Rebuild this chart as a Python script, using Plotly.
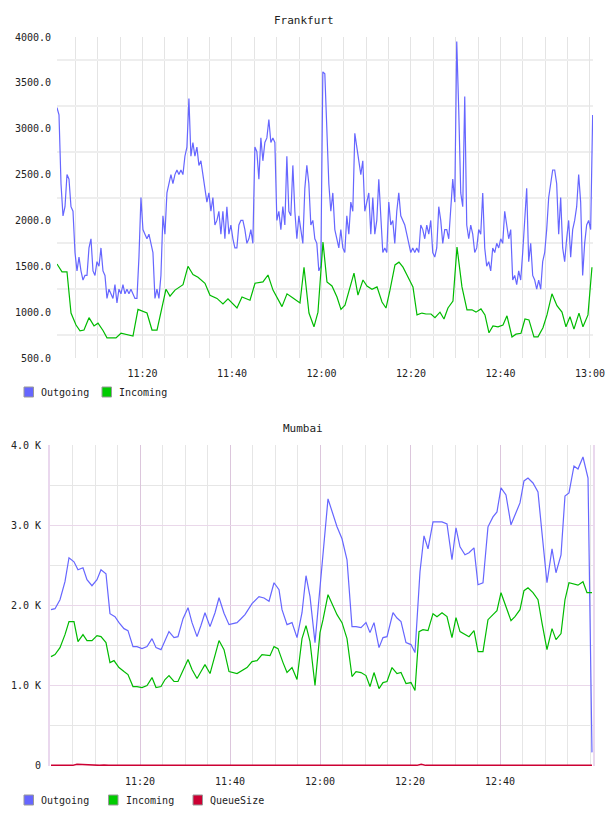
import pandas as pd
import plotly.graph_objects as go

BASE = pd.Timestamp("2024-01-01 11:00:00")

# ---------------- Frankfurt ----------------
fra_out_start = "2024-01-01 11:00:54"
fra_out_step = "26800ms"
fra_out = [
    3230, 3150, 2400, 2050, 2150, 2500, 2450, 2150, 2100, 1650,
    1450, 1600, 1450, 1350, 1400, 1400, 1700, 1800, 1450, 1400,
    1550, 1500, 1700, 1450, 1400, 1150, 1250, 1200, 1150, 1300,
    1100, 1250, 1200, 1300, 1200, 1250, 1200, 1250, 1200, 1150,
    1150, 1600, 2250, 1900, 1850, 1800, 1850, 1750, 1650, 1150,
    1250, 1150, 1400, 2050, 1850, 2300, 2400, 2500, 2400, 2500,
    2550, 2500, 2550, 2500, 2700, 2800, 3330, 2700, 2850, 2700,
    2800, 2600, 2650, 2500, 2400, 2200, 2300, 2100, 2250, 1950,
    2000, 2100, 1850, 2100, 1800, 2150, 1850, 1950, 1800, 1700,
    1700, 1950, 2000, 2000, 1900, 1750, 1800, 1900, 1750, 2800,
    2750, 2450, 2900, 2650, 2850, 2900, 3100, 2850, 2900, 2850,
    2000, 2100, 1900, 2150, 1950, 2700, 2100, 2050, 2600, 2100,
    1800, 2050, 1900, 1750, 2350, 2600, 2400, 1950, 2000, 1800,
    1750, 1450, 1500, 3620, 3600, 3000, 2400, 2100, 2300, 1900,
    1800, 1700, 1900, 1700, 1650, 2050, 1850, 2200, 2100, 2950,
    2800, 2650, 2500, 2650, 2100, 2200, 2300, 1850, 2250, 1850,
    2000, 2450, 2000, 1650, 1700, 1650, 2200, 1950, 2000, 1750,
    2100, 2300, 2050, 2000, 1950, 1850, 1750, 1650, 1700, 1650,
    1700, 1650, 1950, 1900, 1800, 1950, 1850, 2000, 1650, 1600,
    1700, 2150, 2000, 1750, 1900, 1900, 1800, 2150, 2450, 2200,
    3950, 3200, 2300, 2150, 3350, 1950, 1800, 1950, 1850, 1650,
    1700, 1900, 1850, 2300, 1700, 1500, 1550, 1450, 1700, 1650,
    1750, 1700, 1800, 1750, 2100, 1950, 1800, 1900, 1350, 1400,
    1300, 1450, 1350, 1650, 1950, 2350, 1550, 1750, 1400, 1350,
    1250, 1350, 1250, 1550, 1650, 1900, 2250, 2400, 2550, 2550,
    2400, 1850, 2250, 1700, 1550, 1800, 2000, 1600, 1900, 2000,
    2150, 2500, 2200, 1400, 1750, 1950, 2000, 1900, 3150,
]

fra_in_min = [
    0.90, 2.02, 3.13, 4.03, 5.15, 6.04, 6.93, 8.05, 9.17, 10.06,
    11.18, 12.07, 14.08, 15.20, 17.88, 19.00, 21.01, 22.13, 23.25, 25.26,
    26.15, 27.27, 29.06, 30.17, 31.29, 32.41, 33.97, 35.09, 36.65, 37.99,
    39.11, 41.12, 42.24, 44.03, 45.15, 46.93, 48.05, 49.17, 51.18, 52.30,
    53.64, 55.20, 56.10, 57.21, 58.33, 59.22, 60.34, 61.23, 62.35, 63.47,
    64.36, 65.26, 67.27, 68.16, 69.28, 70.17, 71.29, 72.41, 73.53, 74.42,
    75.31, 76.43, 77.32, 78.22, 79.11, 80.45, 81.35, 82.46, 83.36, 84.48,
    85.37, 86.49, 87.38, 88.27, 89.39, 90.29, 91.40, 92.52, 93.64, 94.53,
    95.65, 96.54, 97.44, 98.33, 99.45, 100.57, 101.46, 102.58, 103.47, 104.59,
    105.48, 106.37, 107.49, 108.39, 109.50, 110.40, 111.51, 112.63, 113.75, 114.64,
    115.54, 116.43, 117.55, 118.44, 119.56, 120.45,
]
fra_in = [
    1525, 1440, 1440, 990, 860, 795, 805, 940, 850, 880,
    800, 720, 720, 770, 740, 1030, 990, 805, 805, 1250,
    1175, 1240, 1300, 1500, 1410, 1380, 1315, 1185, 1150, 1090,
    1145, 1045, 1165, 1130, 1315, 1330, 1405, 1240, 1060, 1200,
    1155, 1100, 1490, 990, 840, 1000, 1765, 1330, 1285, 1165,
    1030, 1075, 1425, 1185, 1350, 1285, 1250, 1275, 1110, 1045,
    1240, 1515, 1545, 1490, 1405, 1275, 970, 990, 980, 980,
    940, 1000, 925, 1045, 1120, 1710, 1275, 1025, 1025, 1000,
    1035, 970, 775, 850, 840, 860, 960, 730, 760, 770,
    925, 915, 730, 730, 830, 970, 1200, 1070, 1000, 840,
    950, 815, 990, 840, 970, 1490,
]
fra_yticks = [500, 1000, 1500, 2000, 2500, 3000, 3500, 4000]
fra_ytext = ["500.0", "1000.0", "1500.0", "2000.0", "2500.0", "3000.0", "3500.0", "4000.0"]
fra_ygrid = [750, 1250, 1750, 2250, 2750, 3250, 3750]

# ---------------- Mumbai ----------------
mum_out_min = [
    0.22, 1.11, 2.22, 3.33, 4.22, 5.33, 6.22, 7.33, 8.22, 9.33,
    10.44, 11.33, 12.44, 13.33, 14.44, 15.33, 16.44, 17.33, 18.44, 19.33,
    20.44, 21.56, 22.67, 23.56, 24.67, 25.56, 26.44, 27.56, 28.44, 29.56,
    30.67, 31.56, 32.67, 33.56, 34.44, 35.56, 36.67, 37.56, 38.67, 39.78,
    40.67, 41.56, 42.44, 43.33, 44.89, 46.44, 47.56, 48.67, 49.78, 50.89,
    51.56, 52.67, 53.78, 54.89, 56.00, 56.89, 57.78, 58.89, 61.78, 62.89,
    63.78, 64.89, 66.00, 67.11, 68.00, 69.11, 70.22, 71.11, 72.00, 73.11,
    74.00, 74.89, 76.22, 77.11, 78.00, 79.11, 80.22, 81.11, 82.22, 83.11,
    84.00, 85.11, 86.00, 87.11, 88.22, 89.33, 90.22, 91.11, 92.22, 93.11,
    94.22, 95.11, 96.22, 97.33, 98.44, 99.33, 100.22, 101.33, 102.44, 103.33,
    104.44, 105.33, 106.22, 107.33, 108.44, 109.33, 110.44, 111.56, 112.44, 113.56,
    114.44, 115.33, 116.44, 117.33, 118.44, 119.56, 120.44,
]
mum_out = [
    1944, 1956, 2068, 2293, 2592, 2542, 2442, 2467, 2318, 2243,
    2318, 2442, 2392, 1894, 1857, 1782, 1707, 1682, 1483, 1483,
    1458, 1483, 1582, 1470, 1445, 1570, 1670, 1595, 1607, 1832,
    1969, 1782, 1607, 1750, 1906, 1732, 1906, 2093, 1900, 1757,
    1770, 1782, 1830, 1882, 2019, 2106, 2090, 2050, 2280, 2193,
    1944, 1757, 1782, 1595, 1906, 2368, 2106, 1533, 3327, 3127,
    2980, 2829, 2567, 1732, 1732, 1720, 1782, 1657, 1782, 1470,
    1595, 1607, 1906, 1840, 1794, 1533, 1508, 1408, 2417, 2866,
    2704, 3040, 3040, 3040, 3015, 2567, 2966, 2729, 2629, 2654,
    2716, 2255, 2280, 2978, 3102, 3165, 3464, 3377, 3003, 3127,
    3277, 3551, 3588, 3526, 3414, 2903, 2280, 2704, 2405, 2629,
    3364, 3402, 3738, 3700, 3850, 3588, 162,
]
mum_in_min = [
    0.22, 1.11, 2.22, 3.33, 4.22, 5.33, 6.22, 7.33, 8.22, 9.33,
    10.44, 11.33, 12.44, 13.33, 14.22, 15.33, 16.44, 17.33, 18.44, 19.33,
    20.44, 21.56, 22.67, 23.56, 24.67, 25.56, 26.44, 27.56, 28.44, 29.56,
    30.67, 31.56, 32.67, 33.56, 34.44, 35.56, 36.67, 37.56, 38.67, 39.78,
    41.56, 43.78, 44.89, 46.00, 47.11, 48.89, 49.78, 50.67, 51.78, 52.67,
    53.78, 54.89, 56.00, 56.89, 57.78, 58.89, 60.00, 60.67, 61.78, 62.89,
    63.78, 64.89, 66.00, 67.11, 68.00, 69.11, 70.22, 71.11, 72.00, 73.11,
    74.00, 74.89, 76.00, 77.11, 78.00, 79.11, 80.22, 81.11, 82.00, 82.89,
    84.00, 85.11, 86.00, 87.11, 88.22, 89.33, 90.22, 91.11, 92.22, 93.11,
    94.22, 95.11, 96.22, 97.33, 98.44, 99.33, 100.22, 101.33, 102.44, 103.33,
    104.44, 105.33, 106.22, 107.33, 108.44, 109.33, 110.44, 111.56, 112.44, 113.56,
    114.44, 115.33, 116.44, 117.33, 118.44, 119.33, 120.44,
]
mum_in = [
    1358, 1383, 1470, 1632, 1794, 1794, 1545, 1632, 1558, 1558,
    1620, 1607, 1533, 1283, 1308, 1221, 1171, 1134, 984, 984,
    972, 997, 1096, 972, 984, 1072, 1121, 1047, 1047, 1196,
    1321, 1196, 1084, 1171, 1258, 1146, 1358, 1558, 1445, 1171,
    1146, 1221, 1296, 1308, 1383, 1370, 1483, 1458, 1283, 1159,
    1221, 1072, 1582, 1744, 1545, 997, 1657, 1819, 2131, 1981,
    1882, 1782, 1582, 1109, 1171, 1159, 1121, 984, 1159, 959,
    1034, 1047, 1221, 1146, 1159, 1022, 1034, 934, 1670, 1695,
    1682, 1894, 1857, 1906, 1857, 1595, 1844, 1670, 1632, 1607,
    1682, 1420, 1420, 1819, 1882, 1931, 2156, 1980, 1807, 1857,
    1944, 2181, 2218, 2156, 2068, 1780, 1445, 1707, 1570, 1645,
    2068, 2280, 2268, 2250, 2293, 2156, 2156,
]
mum_q_min = [0.22, 5.0, 6.0, 7.0, 8.0, 11.0, 12.0, 13.0, 40.0, 81.5, 82.5, 83.5, 120.44]
mum_q = [0, 0, 15, 12, 0, 0, 6, 0, 0, 0, 15, 0, 0]
mum_yticks = [0, 1000, 2000, 3000, 4000]
mum_ytext = ["0", "1.0 K", "2.0 K", "3.0 K", "4.0 K"]
mum_ygrid = [500, 1500, 2500, 3500]

xlabels = ["11:20", "11:40", "12:00", "12:20", "12:40", "13:00"]
mum_xlabels = ["11:20", "11:40", "12:00", "12:20", "12:40"]

fra_series = ["Outgoing", "Incoming"]
mum_series = ["Outgoing", "Incoming", "QueueSize"]

# ---------------- styling ----------------
BLUE = "#6666ff"
GREEN = "#00bb00"
RED = "#cc0033"
SWATCH = {"Outgoing": BLUE, "Incoming": "#00cc00", "QueueSize": RED}
FONT = "DejaVu Sans Mono"
TXT = "#222222"
W, H = 608, 816


def tmin(m):
    return [BASE + pd.Timedelta(minutes=v) for v in m]


def hm(s):
    return pd.Timestamp("2024-01-01 " + s)


fra_out_t = pd.date_range(fra_out_start, periods=len(fra_out), freq=fra_out_step)
grid5 = pd.date_range("2024-01-01 11:05", "2024-01-01 13:00", freq="5min")

fig = go.Figure()
fig.add_trace(go.Scatter(x=fra_out_t, y=fra_out, mode="lines", line=dict(color=BLUE, width=1.2),
                         xaxis="x", yaxis="y", name="Outgoing", showlegend=False))
fig.add_trace(go.Scatter(x=tmin(fra_in_min), y=fra_in, mode="lines", line=dict(color=GREEN, width=1.2),
                         xaxis="x", yaxis="y", name="Incoming", showlegend=False))
fig.add_trace(go.Scatter(x=tmin(mum_q_min), y=mum_q, mode="lines", line=dict(color=RED, width=1.5),
                         xaxis="x2", yaxis="y2", name="QueueSize", showlegend=False))
fig.add_trace(go.Scatter(x=tmin(mum_out_min), y=mum_out, mode="lines", line=dict(color=BLUE, width=1.2),
                         xaxis="x2", yaxis="y2", name="Outgoing", showlegend=False))
fig.add_trace(go.Scatter(x=tmin(mum_in_min), y=mum_in, mode="lines", line=dict(color=GREEN, width=1.2),
                         xaxis="x2", yaxis="y2", name="Incoming", showlegend=False))

# legends drawn as swatches + labels
shapes, annotations = [], []


def legend_row(names, box_lefts, y_center):
    for name, bx in zip(names, box_lefts):
        shapes.append(dict(type="rect", xref="paper", yref="paper",
                           x0=bx / W, x1=(bx + 9.5) / W,
                           y0=1 - (y_center + 5) / H, y1=1 - (y_center - 5) / H,
                           fillcolor=SWATCH[name], line=dict(color="#999999", width=1)))
        annotations.append(dict(text=name, x=(bx + 15) / W, y=1 - y_center / H,
                                xref="paper", yref="paper", xanchor="left", yanchor="middle",
                                showarrow=False, font=dict(family=FONT, size=10, color=TXT)))


legend_row(fra_series, [24, 102], 392)
legend_row(mum_series, [24, 108.5, 193], 800)

annotations += [
    dict(text="Frankfurt", x=304 / W, y=1 - 20 / H, xref="paper", yref="paper",
         xanchor="center", yanchor="middle", showarrow=False,
         font=dict(family=FONT, size=11, color=TXT)),
    dict(text="Mumbai", x=303 / W, y=1 - 428 / H, xref="paper", yref="paper",
         xanchor="center", yanchor="middle", showarrow=False,
         font=dict(family=FONT, size=11, color=TXT)),
]

tickfont = dict(family=FONT, size=10, color=TXT)

fig.update_layout(
    template="none",
    width=W, height=H,
    margin=dict(l=0, r=0, t=0, b=0, pad=0, autoexpand=False),
    paper_bgcolor="white", plot_bgcolor="white",
    font=dict(family=FONT, size=10, color=TXT),
    showlegend=False,
    xaxis=dict(domain=[57 / W, 593 / W], anchor="y", type="date", automargin=False,
               range=[hm("11:00:54"), hm("13:00:41")],
               tickmode="array", tickvals=[hm(s) for s in xlabels], ticktext=xlabels,
               showgrid=True, gridcolor="#e4e4e4", gridwidth=1,
               minor=dict(tickmode="array", tickvals=list(grid5), showgrid=True,
                          gridcolor="#e4e4e4", gridwidth=1),
               showline=False, zeroline=False, ticks="", tickfont=tickfont,
               ticklabelstandoff=8, ticklabeloverflow="allow"),
    yaxis=dict(domain=[1 - 358 / H, 1 - 37 / H], anchor="x", range=[500, 4000], automargin=False,
               tickmode="array", tickvals=fra_yticks, ticktext=fra_ytext,
               showgrid=False,
               minor=dict(tickmode="array", tickvals=fra_ygrid, showgrid=True,
                          gridcolor="#eeeeee", gridwidth=2),
               showline=False, zeroline=False, ticks="", tickfont=tickfont,
               ticklabelstandoff=5),
    xaxis2=dict(domain=[50 / W, 593 / W], anchor="y2", type="date", automargin=False,
                range=[hm("11:00:00"), hm("13:00:40")],
                tickmode="array", tickvals=[hm(s) for s in mum_xlabels], ticktext=mum_xlabels,
                showgrid=True, gridcolor="#dcc6dc", gridwidth=1,
                minor=dict(tickmode="array", tickvals=list(grid5), showgrid=True,
                           gridcolor="#e6e6e6", gridwidth=1),
                showline=False, zeroline=False, ticks="", tickfont=tickfont,
                ticklabelstandoff=8),
    yaxis2=dict(domain=[1 - 766 / H, 1 - 445 / H], anchor="x2", range=[-8, 4000], automargin=False,
                tickmode="array", tickvals=mum_yticks, ticktext=mum_ytext,
                showgrid=True, gridcolor="#ead8ea", gridwidth=1,
                minor=dict(tickmode="array", tickvals=mum_ygrid, showgrid=True,
                           gridcolor="#e6e6e6", gridwidth=1),
                showline=True, linecolor="#ead8ee", linewidth=2, mirror=True,
                zeroline=False, ticks="", tickfont=tickfont,
                ticklabelstandoff=5),
    shapes=shapes,
    annotations=annotations,
)

fig.write_html("out.html")
